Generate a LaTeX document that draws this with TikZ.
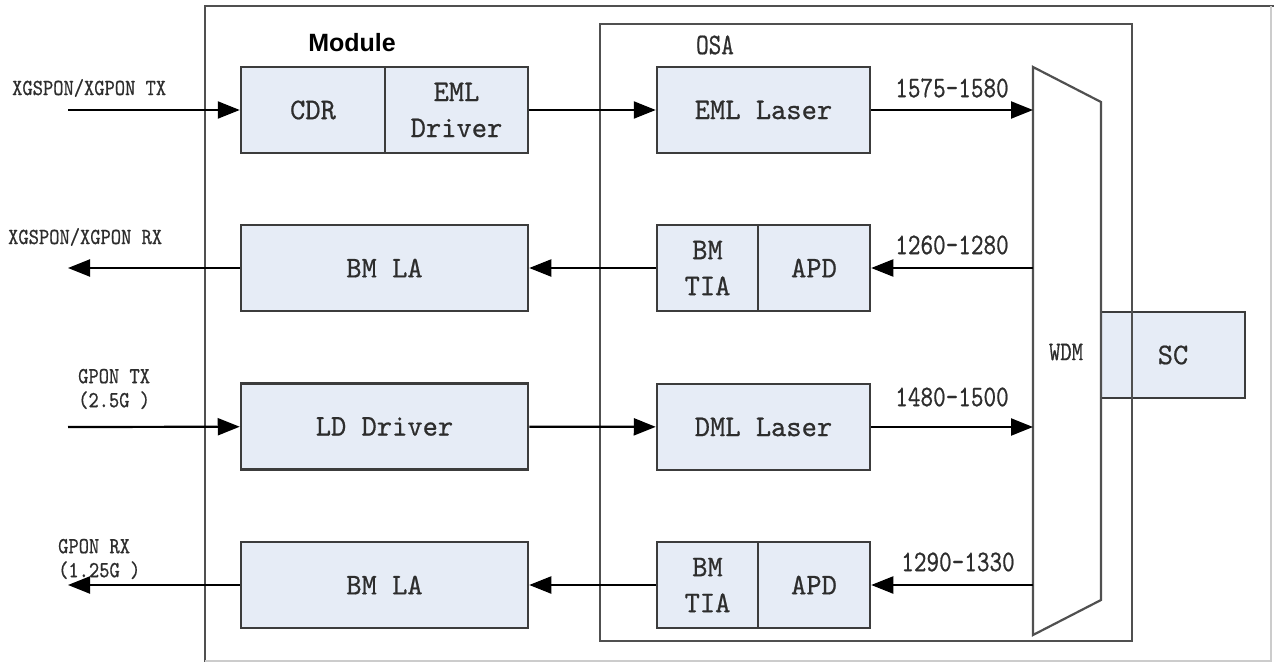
\documentclass[tikz,border=0pt]{standalone}
\usepackage{fontspec}
\usetikzlibrary{arrows.meta}
\newfontfamily\boxfont[FakeStretch=0.97, FakeBold=0.6]{lmmono10-regular.otf}
\newfontfamily\lblfont[FakeStretch=0.85, FakeBold=0.6]{lmmono10-regular.otf}
\newfontfamily\wavefont[FakeStretch=0.8, FakeBold=0.6]{lmmono10-regular.otf}
\newfontfamily\modfont{Liberation Sans}
\definecolor{blockfill}{RGB}{230,236,246}
\definecolor{boxline}{RGB}{60,60,60}
\definecolor{inktext}{RGB}{45,45,45}
\tikzstyle{block} = [rectangle, minimum width=287pt, minimum height=86pt, inner sep=2pt, text centered, align=center, draw=boxline, line width=2.5pt, fill=blockfill, text=inktext, font=\fontsize{30}{36}\boxfont]
\tikzstyle{lbl} = [inner sep=0pt, align=left, text=inktext, font=\fontsize{23}{24}\lblfont]
\tikzstyle{wave} = [inner sep=0pt, text=inktext, font=\fontsize{30}{30}\wavefont]
\tikzstyle{frame} = [draw=boxline!90, line width=2.2pt]
\tikzstyle{arrow} = [line width=2.2pt, -{Triangle[length=22pt,width=17pt]}]

\begin{document}
\begin{tikzpicture}[x=1pt, y=-1pt, node distance=158.5pt]
\useasboundingbox (0,0) rectangle (1274,663);

% module frame
\draw[frame] (1271,661) -- (205,661) -- (205,6) -- (1274,6);
\draw[draw=black!20, line width=1.5pt] (1271,6) -- (1271,661) -- (205,661);
\node[inner sep=0pt, font=\fontsize{25}{28}\modfont\bfseries] (module) at (352,43) {Module};

% SC port, OSA frame drawn over it
\node[block, minimum width=144pt] (sc) at (1173,355) {SC};
\draw[frame] (600,24) rectangle (1132,641);
\node[wave] (osa) at (715,45) {OSA};

% WDM
\coordinate (wdmtl) at (1033,67);
\draw[frame, fill=white] (wdmtl) -- (1101,102) -- (1101,600) -- (1033,635) -- cycle;
\node[wave, font=\fontsize{27}{28}\wavefont] (wdm) at (1066,352) {WDM};

% module blocks
\node[block, minimum width=144pt] (cdr) at (313,110) {CDR};
\node[block, minimum width=143pt, right of=cdr, node distance=143.5pt] (emldrv) {EML\\Driver};
\node[block] (bmla1) at (384.5,268) {BM LA};
\node[block, below of=bmla1] (lddrv) {LD Driver};
\node[block, below of=lddrv] (bmla2) {BM LA};

% OSA blocks
\node[block, minimum width=213pt] (emllaser) at (763.5,110) {EML Laser};
\node[block, minimum width=112pt] (apd1) at (814,268) {APD};
\node[block, minimum width=101pt, left of=apd1, node distance=106.5pt] (bmtia1) {BM\\TIA};
\node[block, minimum width=213pt] (dmllaser) at (763.5,427) {DML Laser};
\node[block, minimum width=112pt, below of=apd1, node distance=317pt] (apd2) {APD};
\node[block, minimum width=101pt, left of=apd2, node distance=106.5pt] (bmtia2) {BM\\TIA};

% outside ports
\coordinate (xtx) at (68,110);
\coordinate (xrx) at (68,268);
\coordinate (gtx) at (68,427);
\coordinate (grx) at (68,585);
\node[lbl, anchor=west] (xtxlbl) at (12,88) {XGSPON/XGPON TX};
\node[lbl, anchor=west] (xrxlbl) at (8,237) {XGSPON/XGPON RX};
\node[lbl, anchor=west] (gtxlbl) at (78,389) {GPON TX\\(2.5G )};
\node[lbl, anchor=west] (grxlbl) at (58,559) {GPON RX\\(1.25G )};

% wavelengths
\node[wave] (w1) at (952,88) {1575-1580};
\node[wave] (w2) at (952,245) {1260-1280};
\node[wave] (w3) at (952,397) {1480-1500};
\node[wave] (w4) at (958,562) {1290-1330};

% signal paths
\draw[arrow] (xtx) -- (cdr);
\draw[arrow] (emldrv) -- (emllaser);
\draw[arrow] (emllaser) -- (emllaser -| wdmtl);
\draw[arrow] (apd1 -| wdmtl) -- (apd1);
\draw[arrow] (bmtia1) -- (bmla1);
\draw[arrow] (bmla1) -- (xrx);
\draw[arrow] (gtx) -- (lddrv);
\draw[arrow] (lddrv) -- (dmllaser);
\draw[arrow] (dmllaser) -- (dmllaser -| wdmtl);
\draw[arrow] (apd2 -| wdmtl) -- (apd2);
\draw[arrow] (bmtia2) -- (bmla2);
\draw[arrow] (bmla2) -- (grx);

\end{tikzpicture}
\end{document}
